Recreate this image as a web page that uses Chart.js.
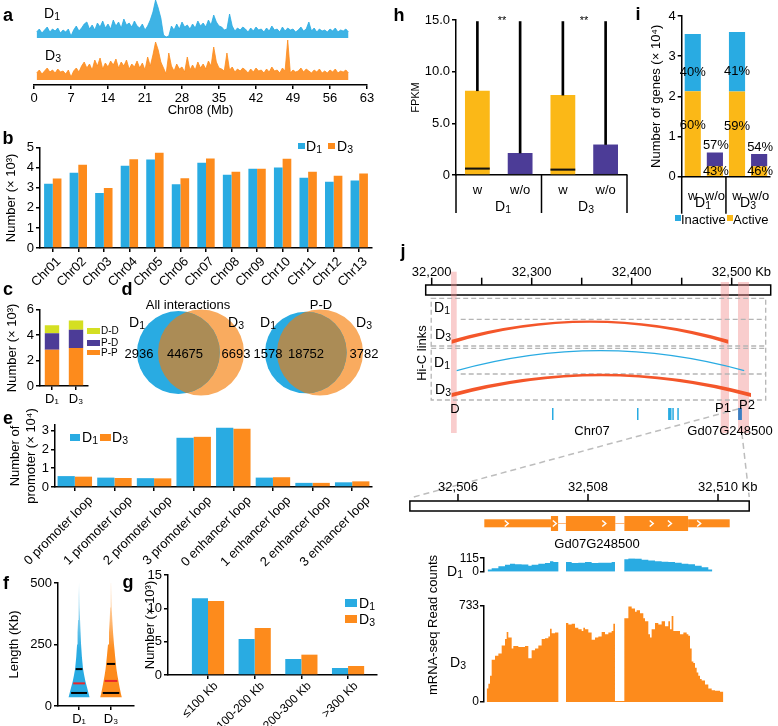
<!DOCTYPE html>
<html>
<head>
<meta charset="utf-8">
<script src="https://cdn.jsdelivr.net/npm/chart.js@4.4.0/dist/chart.umd.min.js"></script>
<style>
  html, body { margin: 0; padding: 0; background: #fff; }
  #fig { position: relative; width: 778px; height: 726px; overflow: hidden;
         font-family: "Liberation Sans", Arial, sans-serif; color: #000; }
  #fig canvas { position: absolute; }
  .t { position: absolute; white-space: nowrap; line-height: 1; }
  .t sub { font-size: 75%; vertical-align: baseline; position: relative; top: 0.22em; }
  .sw { position: absolute; }
</style>
</head>
<body>
<div id="fig"></div>
<script>
// --- colours ---
const BLUE = '#29abe2', ORANGE = '#fd8b1c', YELLOW = '#fbb817', PURPLE = '#4c3c97', LIME = '#d4df22';

// --- a: Hi-C signal along Chr08, one value per 0.5 Mb bin (from 0.5 Mb) ---
const d1Track = [6,9,5,8,11,6,9,7,10,5,8,6,9, 2, 8,12,7,10,14,
  16,9,13,8,15,11,17,10,14,9,18,12,16,10,19,13,15,11,17,12, 10,14,8,12, 18,26,38,30,20, 3,1,2,
  12,8,14,9,16,11,13,9, 14,10,17,12,15,11,18,13, 23,16,12, 11,8,9,24,12,7,10,8,11,
  9,6,10,7,11,8,9,6,10,7,12,8,9,6,11,7,10,8,9,6, 8,11,7,9,16,7,10,6,9,7, 8,6,9,7,10,6,8,7,9,6];
const d3Track = [7,10,6,9,12,8,10,7,11,8,9,6,10, 3, 9,12,8,14,18,
  12,16,10,20,14,22,11,17,13,19,15,21,12,18,14,20,11,16,13,19, 12,17,10,23, 14,25,38,30,18, 12,6,27,
  14,9,16,11,13,8,23,10, 15,10,18,12,16,11,19,14, 33,18,12, 11,9,27,10,13,8,11,9,12,
  10,7,11,8,12,9,10,7,11,8,13,9,10,7,12,9,40,7,10,8, 9,12,8,11,9,7,10,8,11,7, 9,7,10,8,11,7,9,8,10,7];
const mbBins = d1Track.map((_, i) => 0.5 + i * 0.5);

// --- b: interactions per chromosome (x 10^3) ---
const chrNames = ['Chr01','Chr02','Chr03','Chr04','Chr05','Chr06','Chr07','Chr08','Chr09','Chr10','Chr11','Chr12','Chr13'];
const bD1 = [3.2, 3.75, 2.75, 4.1, 4.42, 3.18, 4.25, 3.65, 3.95, 4.02, 3.5, 3.3, 3.37];
const bD3 = [3.47, 4.15, 3.0, 4.43, 4.75, 3.48, 4.46, 3.8, 3.95, 4.45, 3.8, 3.6, 3.72];

// --- c: interaction types (x 10^3) ---
const cSamples = ['D₁', 'D₃'];
const cPP = [2.85, 3.0], cPD = [1.3, 1.42], cDD = [0.63, 0.73];

// --- d: venn counts [D1 only, shared, D3 only] ---
const vennAll = [2936, 44675, 6693];
const vennPD = [1578, 18752, 3782];

// --- e: promoter loops (x 10^4) ---
const loopCats = ['0 promoter loop','1 promoter loop','2 promoter loop','3 promoter loop',
  '0 enhancer loop','1 enhancer loop','2 enhancer loop','3 enhancer loop'];
const eD1 = [0.58, 0.5, 0.47, 2.62, 3.15, 0.5, 0.22, 0.25];
const eD3 = [0.55, 0.48, 0.46, 2.67, 3.1, 0.52, 0.22, 0.3];

// --- f: loop length violins (half width in axis units per length level) ---
const vLen = [35, 50, 75, 100, 125, 150, 200, 250, 300, 350, 400, 450, 500];
const vD1 = [0.33, 0.30, 0.25, 0.20, 0.16, 0.125, 0.088, 0.063, 0.047, 0.031, 0.02, 0.01, 0.002];
const vD3 = [0.34, 0.31, 0.27, 0.235, 0.2, 0.17, 0.13, 0.094, 0.063, 0.041, 0.025, 0.016, 0.006];
const fQ1 = [53, 53], fMed = [92, 102], fQ3 = [150, 171];

// --- g: loop length classes (x 10^3) ---
const gCats = ['≤100 Kb', '100-200 Kb', '200-300 Kb', '>300 Kb'];
const gD1 = [11.5, 5.4, 2.4, 1.05];
const gD3 = [11.1, 7.05, 3.05, 1.35];

// --- h: FPKM boxes ---
const hCats = ['w', 'w/o', 'w', 'w/o'];
const hQ1 = [0, 0, 0, 0], hMed = [0.62, 0, 0.52, 0], hQ3 = [8.15, 2.13, 7.73, 2.95], hMax = [14.85, 14.85, 14.85, 14.85];

// --- i: genes (x 10^4) ---
const iActive = [2.13, 0.26, 2.12, 0.26];
const iInactive = [1.42, 0.34, 1.48, 0.305];

// --- j: locus view (Kb) ---
const bandFrom = [32219.3, 32489, 32506.3], bandTo = [32225, 32497.3, 32517.3];
const linkFrom = [32220, 32225, 32220], linkTo = [32496.5, 32512.5, 32519.3];
const linkSample = ['D3', 'D1', 'D3'], linkPanel = [0, 1, 1];
const chrGeneFrom = [32320.3, 32405.3, 32436.4, 32440.6, 32445.6, 32506.4];
const chrGeneTo = [32320.9, 32405.9, 32439.8, 32441.3, 32446.3, 32510.2];
const utrFrom = [32506.405, 32509.54], utrTo = [32507.43, 32510.18];
const cdsFrom = [32507.43, 32507.66, 32508.56], cdsTo = [32507.54, 32508.42, 32509.54];
const strandMarks = [32506.75, 32507.49, 32508.25, 32508.98, 32509.26, 32509.71];
// coverage: positions in Kb past 32,506 Kb, read counts
const covD1Pos = [0.456,0.518,0.621,0.723,0.800,0.877,0.979,1.082,1.133,1.236,1.338,1.415,1.467,1.544,1.662,1.749,1.851,1.954,2.056,2.159,2.262,2.364,2.415,2.559,2.621,2.723,2.826,2.928,3.031,3.133,3.236,3.338,3.441,3.544,3.646,3.749,3.851,3.913];
const covD1 = [20,31,46,59,69,64,61,51,59,69,74,89,82,0,82,74,77,82,74,77,77,82,0,107,115,112,102,95,89,84,82,77,69,64,51,38,20,0];
const covD3Pos = [0.441,0.467,0.492,0.518,0.569,0.621,0.672,0.723,0.749,0.774,0.826,0.851,0.928,1.031,1.082,1.133,1.185,1.236,1.287,1.338,1.390,1.415,1.441,1.492,1.544,1.662,1.697,1.749,1.800,1.851,1.903,1.928,1.954,2.005,2.056,2.108,2.159,2.210,2.262,2.313,2.364,2.390,2.415,2.559,2.621,2.672,2.723,2.749,2.800,2.851,2.877,2.928,2.954,2.979,3.031,3.082,3.133,3.185,3.236,3.262,3.287,3.313,3.364,3.415,3.467,3.518,3.544,3.569,3.595,3.621,3.646,3.672,3.697,3.723,3.749,3.800,3.851,3.903,3.954,4.031,4.082];
const covD3 = [103,139,200,322,354,371,432,481,535,493,408,428,420,428,335,396,408,432,481,486,501,559,525,530,0,603,591,598,567,555,542,567,555,530,476,493,501,535,518,530,542,598,8,640,730,713,689,701,677,640,616,518,493,555,603,591,616,579,616,555,657,542,542,518,530,518,506,408,310,298,261,225,200,176,164,134,103,90,86,78,0];

// --- defaults ---
Chart.defaults.font.family = '"Liberation Sans", Arial, sans-serif';
Chart.defaults.font.size = 13;
Chart.defaults.color = '#000';
Chart.defaults.animation = false;
Chart.defaults.responsive = false;
Chart.defaults.events = [];
Chart.defaults.layout.autoPadding = false;
Chart.defaults.plugins.legend.display = false;
Chart.defaults.plugins.tooltip.enabled = false;
Chart.defaults.elements.point.radius = 0;

const fig = document.getElementById('fig');
const FONT = '13px "Liberation Sans", Arial, sans-serif';

function mk(left, top, w, h, cfg) {
  const c = document.createElement('canvas');
  c.width = w; c.height = h;
  c.style.left = left + 'px'; c.style.top = top + 'px';
  c.style.width = w + 'px'; c.style.height = h + 'px';
  fig.appendChild(c);
  return new Chart(c, cfg);
}

function txt(html, x, y, size = 13, o = {}) {
  const d = document.createElement('div');
  d.className = 't';
  d.innerHTML = html;
  d.style.left = x + 'px'; d.style.top = y + 'px'; d.style.fontSize = size + 'px';
  if (o.bold) d.style.fontWeight = 'bold';
  d.style.transform = `translate(${o.left ? '0' : '-50%'},-50%)` + (o.rot ? ' rotate(-90deg)' : '');
  fig.appendChild(d);
}

function sw(x, y, w, h, color) {
  const d = document.createElement('div');
  d.className = 'sw';
  d.style.cssText = `left:${x}px;top:${y}px;width:${w}px;height:${h}px;background:${color}`;
  fig.appendChild(d);
}

// axis with black line and outside ticks
function ax(o) {
  const a = {
    border: { color: '#000', width: 1.5 },
    grid: { drawOnChartArea: false, tickLength: 4, color: '#000', lineWidth: 1.5, offset: false },
    ticks: { color: '#000', padding: 2, autoSkip: false },
  };
  for (const k in o) {
    a[k] = (o[k] && typeof o[k] === 'object' && !Array.isArray(o[k]) && a[k]) ? Object.assign({}, a[k], o[k]) : o[k];
  }
  return a;
}
const fixW = w => s => { s.width = w; };
const fixH = h => s => { s.height = h; };
const yTitle = (text, pad, size = 13) => ({ display: true, text, padding: { top: pad, bottom: 0 }, font: { size } });

// ================= a =================
mk(34, 0, 333, 38, {
  type: 'line',
  data: { datasets: [{ data: d1Track.map((v, i) => ({ x: mbBins[i], y: v })), borderColor: BLUE, borderWidth: 0.8,
    backgroundColor: 'rgba(41,171,226,0.9)', fill: 'origin', tension: 0 }] },
  options: { layout: { padding: 0 },
    scales: { x: { type: 'linear', display: false, min: 0, max: 63 }, y: { display: false, min: 0, max: 38 } } }
});
mk(0, 36, 378, 82, {
  type: 'line',
  data: { datasets: [{ data: d3Track.map((v, i) => ({ x: mbBins[i], y: v })), borderColor: ORANGE, borderWidth: 0.8,
    backgroundColor: 'rgba(253,139,28,0.9)', fill: 'origin', tension: 0 }] },
  options: { layout: { padding: { left: 34, right: 11, top: 2 } },
    scales: {
      x: ax({ type: 'linear', min: 0, max: 63, ticks: { stepSize: 7, maxRotation: 0 },
        title: { display: true, text: 'Chr08 (Mb)', padding: 0 }, afterFit: fixH(33) }),
      y: { display: false, min: -5, max: 42 }
    } }
});
txt('D<sub>1</sub>', 52, 13, 14);
txt('D<sub>3</sub>', 53, 55, 14);

// ================= b =================
mk(0, 138, 378, 165, {
  type: 'bar',
  data: { labels: chrNames, datasets: [
    { data: bD1, backgroundColor: BLUE },
    { data: bD3, backgroundColor: ORANGE }] },
  options: {
    datasets: { bar: { barPercentage: 1, categoryPercentage: 0.68 } },
    layout: { padding: { top: 5, right: 6 } },
    scales: {
      x: ax({ ticks: { minRotation: 45, maxRotation: 45, labelOffset: 6 }, afterFit: fixH(55) }),
      y: ax({ min: 0, max: 5, ticks: { stepSize: 1 }, title: yTitle('Number (× 10³)', 4), afterFit: fixW(40) })
    }
  }
});
sw(298, 143, 7, 6, BLUE); txt('D<sub>1</sub>', 306, 146, 14, { left: 1 });
sw(328, 143, 7, 6, ORANGE); txt('D<sub>3</sub>', 337, 146, 14, { left: 1 });

// ================= c =================
mk(0, 300, 92, 112, {
  type: 'bar',
  data: { labels: cSamples, datasets: [
    { data: cPP, backgroundColor: ORANGE },
    { data: cPD, backgroundColor: PURPLE },
    { data: cDD, backgroundColor: LIME }] },
  options: {
    datasets: { bar: { barPercentage: 0.6, categoryPercentage: 1 } },
    layout: { padding: { top: 7, right: 4 } },
    scales: {
      x: ax({ stacked: true, afterFit: fixH(26) }),
      y: ax({ stacked: true, min: 0, max: 6, ticks: { stepSize: 2 }, title: yTitle('Number (× 10³)', 5), afterFit: fixW(40) })
    }
  }
});
sw(87, 328, 13, 6, LIME); txt('D-D', 101, 331, 10, { left: 1 });
sw(87, 340, 13, 6, PURPLE); txt('P-D', 101, 343, 10, { left: 1 });
sw(87, 350, 13, 5, ORANGE); txt('P-P', 101, 353, 10, { left: 1 });

// ================= d =================
function vennR(s) {
  const a = s[0] + s[1], b = s[1] + s[2], m = Math.max(a, b);
  return [43 * Math.sqrt(a / m), 43 * Math.sqrt(b / m)];
}
const rAll = vennR(vennAll), rPD = vennR(vennPD);
const vennMid = {
  id: 'vennMid',
  afterDatasetsDraw(chart) {
    const ctx = chart.ctx;
    const a = chart.getDatasetMeta(0).data, b = chart.getDatasetMeta(1).data;
    a.forEach((p, k) => {
      const q = b[k];
      ctx.save();
      ctx.beginPath(); ctx.arc(p.x, p.y, p.options.radius, 0, Math.PI * 2); ctx.clip();
      ctx.beginPath(); ctx.arc(q.x, q.y, q.options.radius, 0, Math.PI * 2);
      ctx.fillStyle = '#ab8c56'; ctx.fill();
      ctx.restore();
    });
  }
};
mk(120, 295, 258, 115, {
  type: 'bubble',
  data: { datasets: [
    { data: [{ x: 17 + rAll[0], y: 57.5, r: rAll[0] }, { x: 145 + rPD[0], y: 57.5, r: rPD[0] }], backgroundColor: BLUE, borderWidth: 0 },
    { data: [{ x: 124 - rAll[1], y: 57.5, r: rAll[1] }, { x: 243 - rPD[1], y: 57.5, r: rPD[1] }], backgroundColor: '#f9ab5f', borderWidth: 0 }] },
  options: { layout: { padding: 0, autoPadding: false }, clip: false,
    scales: { x: { type: 'linear', display: false, min: 0, max: 258 }, y: { type: 'linear', display: false, min: 0, max: 115 } } },
  plugins: [vennMid]
});
txt('All interactions', 188, 304, 13);
txt('D<sub>1</sub>', 137, 322, 14); txt('D<sub>3</sub>', 236, 322, 14);
txt(String(vennAll[0]), 139, 353, 13); txt(String(vennAll[1]), 185, 353, 13); txt(String(vennAll[2]), 236, 353, 13);
txt('P-D', 321, 304, 13);
txt('D<sub>1</sub>', 268, 322, 14); txt('D<sub>3</sub>', 364, 322, 14);
txt(String(vennPD[0]), 268, 353, 13); txt(String(vennPD[1]), 306, 353, 13); txt(String(vennPD[2]), 364, 353, 13);

// ================= e =================
mk(0, 400, 378, 170, {
  type: 'bar',
  data: { labels: loopCats, datasets: [
    { data: eD1, backgroundColor: BLUE },
    { data: eD3, backgroundColor: ORANGE }] },
  options: {
    datasets: { bar: { barPercentage: 1, categoryPercentage: 0.87 } },
    layout: { padding: { top: 25, right: 6 } },
    scales: {
      x: ax({ ticks: { minRotation: 45, maxRotation: 45, labelOffset: 16 }, afterFit: fixH(83) }),
      y: ax({ min: 0, max: 3.3, ticks: { stepSize: 1, includeBounds: false },
        title: yTitle(['Number of', 'promoter (× 10⁴)'], 8), afterFit: fixW(55) })
    }
  }
});
sw(70, 434, 10, 7, BLUE); txt('D<sub>1</sub>', 82, 437, 14, { left: 1 });
sw(100, 434, 11, 7, ORANGE); txt('D<sub>3</sub>', 112, 437, 14, { left: 1 });

// ================= f =================
const fX = [1, 2];
const violins = [vD1, vD3];
const fRGB = ['41,171,226', '253,139,28'];
function violinAt(d, L) {
  for (let k = 0; k < vLen.length - 1; k++) {
    if (L >= vLen[k] && L <= vLen[k + 1]) {
      const t = (L - vLen[k]) / (vLen[k + 1] - vLen[k]);
      return d[k] + t * (d[k + 1] - d[k]);
    }
  }
  return d[0];
}
function grad(rgb) {
  return (c) => {
    const a = c.chart.chartArea;
    if (!a) return `rgb(${rgb})`;
    const g = c.chart.ctx.createLinearGradient(0, a.top, 0, a.bottom);
    g.addColorStop(0, `rgba(${rgb},0.1)`);
    g.addColorStop(0.3, `rgba(${rgb},0.6)`);
    g.addColorStop(0.55, `rgba(${rgb},1)`);
    g.addColorStop(1, `rgba(${rgb},1)`);
    return g;
  };
}
const fSets = [];
fX.forEach((c, g) => {
  [[fQ1[g], '#000'], [fMed[g], '#e8262b'], [fQ3[g], '#000']].forEach(([q, col]) => {
    const w = violinAt(violins[g], q) * 0.85;
    fSets.push({ data: [{ x: c - w, y: q }, { x: c + w, y: q }], borderColor: col, borderWidth: 2, fill: false });
  });
});
fX.forEach((c, g) => {
  fSets.push({ data: vLen.map((L, k) => ({ x: c - violins[g][k], y: L })), borderColor: 'transparent', borderWidth: 0,
    fill: '+1', backgroundColor: grad(fRGB[g]) });
  fSets.push({ data: vLen.map((L, k) => ({ x: c + violins[g][k], y: L })), borderColor: 'transparent', borderWidth: 0, fill: false });
});
mk(0, 565, 140, 161, {
  type: 'line',
  data: { datasets: fSets },
  options: {
    indexAxis: 'y',
    layout: { padding: { top: 18, right: 6 } },
    scales: {
      x: ax({ type: 'linear', min: 0.34, max: 2.72,
        afterBuildTicks: s => { s.ticks = fX.map(v => ({ value: v })); },
        ticks: { callback: (v, i) => cSamples[i], maxRotation: 0 }, afterFit: fixH(20) }),
      y: ax({ type: 'linear', min: 0, max: 500, ticks: { stepSize: 250 }, title: yTitle('Length (Kb)', 7), afterFit: fixW(58) })
    }
  }
});

// ================= g =================
mk(120, 565, 258, 161, {
  type: 'bar',
  data: { datasets: [
    { data: gD1.map((v, i) => ({ x: i, y: v })), backgroundColor: BLUE },
    { data: gD3.map((v, i) => ({ x: i, y: v })), backgroundColor: ORANGE }] },
  options: {
    datasets: { bar: { barPercentage: 1, categoryPercentage: 0.69 } },
    layout: { padding: { top: 10, right: 1 } },
    scales: {
      x: ax({ type: 'linear', offset: false, min: -0.857, max: 3.62,
        afterBuildTicks: s => { s.ticks = gCats.map((_, i) => ({ value: i })); },
        ticks: { callback: (v, i) => gCats[i], minRotation: 45, maxRotation: 45, font: { size: 12 }, padding: 0, labelOffset: 8 },
        afterFit: fixH(51) }),
      y: ax({ min: 0, max: 15, ticks: { stepSize: 5 }, title: yTitle('Number (× 10³)', 23), afterFit: fixW(48) })
    }
  }
});
sw(345, 599, 12, 8, BLUE); txt('D<sub>1</sub>', 359, 603, 14, { left: 1 });
sw(345, 615, 12, 8, ORANGE); txt('D<sub>3</sub>', 359, 619, 14, { left: 1 });

// ================= h =================
function groupSeps(chart, depth, withRight) {
  const { ctx, chartArea: a, scales: { x } } = chart;
  const xs = [a.left, (x.getPixelForValue(1) + x.getPixelForValue(2)) / 2];
  if (withRight) xs.push(a.right);
  ctx.save();
  ctx.strokeStyle = '#000'; ctx.lineWidth = 1.5;
  xs.forEach(px => { ctx.beginPath(); ctx.moveTo(px, a.bottom); ctx.lineTo(px, a.bottom + depth); ctx.stroke(); });
  ctx.restore();
}
const hColors = [YELLOW, PURPLE, YELLOW, PURPLE];
mk(395, 0, 240, 215, {
  type: 'bar',
  data: { labels: hCats, datasets: [
    { data: hMed.map(v => [v - 0.1, v + 0.1]), backgroundColor: '#111', barPercentage: 0.58, categoryPercentage: 1, grouped: false },
    { data: hQ3.map((v, i) => [v, hMax[i]]), backgroundColor: '#000', barThickness: 2, grouped: false },
    { data: hQ3.map((v, i) => [hQ1[i], v]), backgroundColor: hColors, barPercentage: 0.58, categoryPercentage: 1, grouped: false }] },
  options: {
    layout: { padding: { top: 20, right: 8 } },
    scales: {
      x: ax({ grid: { display: false }, ticks: { padding: 4, maxRotation: 0 }, afterFit: fixH(40) }),
      y: ax({ min: 0, max: 15, ticks: { stepSize: 5, callback: v => v === 0 ? '0' : v.toFixed(1) },
        title: yTitle('FPKM', 14, 11), afterFit: fixW(61) })
    }
  },
  plugins: [{ id: 'hSep', afterDraw: c => groupSeps(c, 38, true) }]
});
txt('**', 502, 20, 11); txt('**', 584, 20, 11);
txt('D<sub>1</sub>', 503, 206, 14); txt('D<sub>3</sub>', 586, 206, 14);

// ================= i =================
const iInColors = [BLUE, PURPLE, BLUE, PURPLE];
const iPct = {
  id: 'iPct',
  afterDatasetsDraw(chart) {
    const { ctx, scales: { y } } = chart;
    const meta = chart.getDatasetMeta(0);
    ctx.save();
    ctx.font = FONT; ctx.fillStyle = '#000'; ctx.textAlign = 'center'; ctx.textBaseline = 'middle';
    iActive.forEach((a, k) => {
      const n = iInactive[k], tot = a + n, x = meta.data[k].x;
      const pa = Math.round(a / tot * 100) + '%', pn = Math.round(n / tot * 100) + '%';
      if (k % 2 === 0) {
        ctx.fillText(pn, x, y.getPixelForValue(a + n / 2) + 10);
        ctx.fillText(pa, x, y.getPixelForValue(a / 2) - 8);
      } else {
        ctx.fillText(pn, x + 1, y.getPixelForValue(tot) - 7);
        ctx.fillText(pa, x + 1, y.getPixelForValue(0) - 5);
      }
    });
    ctx.restore();
  },
  afterDraw: c => groupSeps(c, 37, false)
};
mk(647, 0, 131, 215, {
  type: 'bar',
  data: { labels: hCats, datasets: [
    { data: iActive, backgroundColor: YELLOW },
    { data: iInactive, backgroundColor: iInColors }] },
  options: {
    datasets: { bar: { barPercentage: 0.73, categoryPercentage: 1 } },
    layout: { padding: { top: 16, right: 6 } },
    scales: {
      x: ax({ stacked: true, grid: { display: false }, ticks: { padding: 8, maxRotation: 0, minRotation: 0 }, afterFit: fixH(38.3) }),
      y: ax({ stacked: true, min: 0, max: 4, ticks: { stepSize: 1 }, title: yTitle('Number of genes (× 10⁴)', 2), afterFit: fixW(34.7) })
    }
  },
  plugins: [iPct]
});
txt('D<sub>1</sub>', 703, 202, 14); txt('D<sub>3</sub>', 748, 202, 14);
sw(675, 215, 6, 6, BLUE); txt('Inactive', 681, 219, 13, { left: 1 });
sw(727, 215, 6, 6, YELLOW); txt('Active', 733, 219, 13, { left: 1 });

// ================= j =================
const rowBase = [{ D3: 86.7 }, { D1: 115.7, D3: 140 }];
const jPlot = {
  id: 'jPlot',
  afterDraw(chart) {
    const ctx = chart.ctx, sx = chart.scales.x, sx2 = chart.scales.x2, sy = chart.scales.y;
    const X = v => sx.getPixelForValue(v), X2 = v => sx2.getPixelForValue(v), Y = v => sy.getPixelForValue(v);
    const kb = v => v.toLocaleString('en-US');
    const label = (x, y, s, unit) => {
      ctx.font = FONT; ctx.fillStyle = '#000'; ctx.textAlign = 'center'; ctx.textBaseline = 'middle';
      ctx.fillText(s, x, y);
      if (unit) { const w = ctx.measureText(s).width; ctx.textAlign = 'left'; ctx.fillText(' Kb', x + w / 2, y); }
    };
    ctx.save();
    // upper ruler
    const u0 = X(32194), u1 = X(32539);
    ctx.fillStyle = '#fff'; ctx.fillRect(u0, Y(30), u1 - u0, Y(40) - Y(30));
    ctx.strokeStyle = '#000'; ctx.lineWidth = 1.5; ctx.strokeRect(u0, Y(30), u1 - u0, Y(40) - Y(30));
    for (let t = 32200; t <= 32500; t += 50) {
      ctx.beginPath(); ctx.moveTo(X(t), Y(22.7)); ctx.lineTo(X(t), Y(30)); ctx.stroke();
      if (t % 100 === 0) label(X(t), Y(17), kb(t), t === 32500);
    }
    // highlighted D / P1 / P2 regions
    const bandTop = [16.7, 27, 27];
    ctx.fillStyle = 'rgba(240,135,135,0.42)';
    bandFrom.forEach((f, k) => ctx.fillRect(X(f), Y(bandTop[k]), X(bandTo[k]) - X(f), Y(178) - Y(bandTop[k])));
    // Hi-C link frames
    ctx.setLineDash([5, 3]); ctx.strokeStyle = '#b5b5b5'; ctx.lineWidth = 1.3;
    const t0 = X(32199.5), t1 = X(32534);
    ctx.strokeRect(t0, Y(43.3), t1 - t0, Y(145) - Y(43.3));
    [91, 93.3].forEach(r => { ctx.beginPath(); ctx.moveTo(t0, Y(r)); ctx.lineTo(t1, Y(r)); ctx.stroke(); });
    [64.3, 119].forEach(r => { ctx.beginPath(); ctx.moveTo(X(32229), Y(r)); ctx.lineTo(t1, Y(r)); ctx.stroke(); });
    ctx.setLineDash([]);
    // links
    linkFrom.forEach((f, k) => {
      const x1 = X(f), x2 = X(linkTo[k]), xm = (x1 + x2) / 2;
      const base = Y(rowBase[linkPanel[k]][linkSample[k]]), rise = 20;
      if (linkSample[k] === 'D3') {
        const w0 = 2, w1 = 0.3;
        ctx.beginPath();
        ctx.moveTo(x1, base - w0); ctx.quadraticCurveTo(xm, base - 2 * rise - w1, x2, base - w0);
        ctx.lineTo(x2, base + w0); ctx.quadraticCurveTo(xm, base - 2 * rise + w1, x1, base + w0);
        ctx.closePath(); ctx.fillStyle = '#f4562a'; ctx.fill();
      } else {
        ctx.beginPath(); ctx.moveTo(x1, base); ctx.quadraticCurveTo(xm, base - 2 * rise, x2, base);
        ctx.strokeStyle = BLUE; ctx.lineWidth = 1.2; ctx.stroke();
      }
    });
    // genes on Chr07
    chrGeneFrom.forEach((f, k) => {
      ctx.fillStyle = k === chrGeneFrom.length - 1 ? '#3b7fc2' : BLUE;
      ctx.fillRect(X(f), Y(153), Math.max(1.5, X(chrGeneTo[k]) - X(f)), Y(165) - Y(153));
    });
    // zoom connectors
    const g = chrGeneFrom.length - 1, r0 = 32505.26, r1 = 32510.48;
    ctx.setLineDash([6, 4]); ctx.strokeStyle = '#bdbdbd'; ctx.lineWidth = 1.5;
    ctx.beginPath(); ctx.moveTo(X(chrGeneFrom[g]), Y(154)); ctx.lineTo(X2(r0), Y(243)); ctx.stroke();
    ctx.beginPath(); ctx.moveTo(X(chrGeneTo[g]), Y(178)); ctx.lineTo(X2(r1), Y(242)); ctx.stroke();
    ctx.setLineDash([]);
    // lower ruler
    ctx.fillStyle = '#fff'; ctx.fillRect(X2(r0), Y(246), X2(r1) - X2(r0), Y(256) - Y(246));
    ctx.strokeStyle = '#000'; ctx.lineWidth = 1.5; ctx.strokeRect(X2(r0), Y(246), X2(r1) - X2(r0), Y(256) - Y(246));
    [32506, 32508, 32510].forEach(t => {
      ctx.beginPath(); ctx.moveTo(X2(t), Y(239)); ctx.lineTo(X2(t), Y(246)); ctx.stroke();
      label(X2(t), Y(232), kb(t), t === 32510);
    });
    // gene model
    ctx.strokeStyle = '#fdb57a'; ctx.lineWidth = 1;
    for (let k = 0; k < cdsFrom.length - 1; k++) {
      ctx.beginPath(); ctx.moveTo(X2(cdsTo[k]), Y(268.5)); ctx.lineTo(X2(cdsFrom[k + 1]), Y(268.5)); ctx.stroke();
    }
    ctx.fillStyle = ORANGE;
    utrFrom.forEach((f, k) => ctx.fillRect(X2(f), Y(264.3), X2(utrTo[k]) - X2(f), Y(272.3) - Y(264.3)));
    cdsFrom.forEach((f, k) => ctx.fillRect(X2(f), Y(261), X2(cdsTo[k]) - X2(f), Y(276) - Y(261)));
    ctx.strokeStyle = '#fff'; ctx.lineWidth = 1.5;
    strandMarks.forEach(m => {
      const x = X2(m), y = Y(268.5);
      ctx.beginPath(); ctx.moveTo(x - 2, y - 3); ctx.lineTo(x + 1.5, y); ctx.lineTo(x - 2, y + 3); ctx.stroke();
    });
    ctx.restore();
  }
};
mk(400, 255, 378, 300, {
  type: 'line',
  data: { datasets: [] },
  options: {
    layout: { padding: 0 },
    scales: {
      x: { type: 'linear', display: false, min: 32168.3, max: 32546.3 },
      x2: { type: 'linear', axis: 'x', display: false, min: 32505.108, max: 32510.923 },
      y: { type: 'linear', display: false, min: 0, max: 300, reverse: true }
    }
  },
  plugins: [jPlot]
});

function coverage(top, h, pad, pos, vals, ymax, color) {
  mk(440, top, 320, h, {
    type: 'line',
    data: { datasets: [{ data: vals.map((v, i) => ({ x: 32506 + pos[i], y: v })), stepped: 'before', fill: 'origin',
      borderWidth: 0, borderColor: 'transparent', backgroundColor: color }] },
    options: {
      layout: { padding: { top: pad[0], bottom: pad[1], right: 11 } },
      scales: {
        x: { type: 'linear', display: false, min: 32506.4, max: 32510.477 },
        y: ax({ min: 0, max: ymax, afterBuildTicks: s => { s.ticks = [{ value: 0 }, { value: ymax }]; },
          ticks: { font: { size: 12 }, padding: 1 }, afterFit: fixW(44) })
      }
    }
  });
}
coverage(550, 30, [8, 7], covD1Pos, covD1, 115, BLUE);
coverage(596, 120, [10, 14], covD3Pos, covD3, 733, ORANGE);

txt('Hi-C links', 421, 353, 13, { rot: 1 });
txt('D<sub>1</sub>', 442, 307, 14); txt('D<sub>3</sub>', 443, 334, 14);
txt('D<sub>1</sub>', 442, 362, 14); txt('D<sub>3</sub>', 443, 389, 14);
txt('D', 455, 408, 13); txt('P1', 723, 407, 13); txt('P2', 747, 404, 13);
txt('Chr07', 592, 430, 13); txt('Gd07G248500', 730, 430, 13);
txt('Gd07G248500', 597, 543, 13);
txt('mRNA-seq Read counts', 432, 625, 13, { rot: 1 });
txt('D<sub>1</sub>', 455, 571, 14); txt('D<sub>3</sub>', 458, 662, 14);

// panel letters
[['a', 8, 15], ['b', 8, 138], ['c', 8, 289], ['d', 127, 289], ['e', 8, 418], ['f', 6, 583],
 ['g', 128, 582], ['h', 399, 15], ['i', 638, 14], ['j', 403, 251]].forEach(([s, x, y]) => txt(s, x, y, 18, { bold: 1 }));
</script>
</body>
</html>
